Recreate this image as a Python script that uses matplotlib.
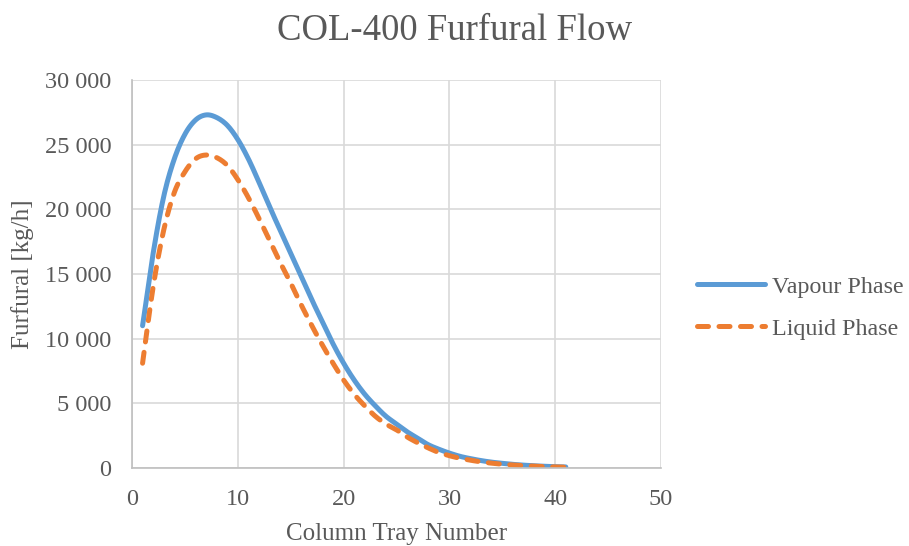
import numpy as np
import matplotlib
matplotlib.use("Agg")
import matplotlib.pyplot as plt
from matplotlib.ticker import FuncFormatter, MultipleLocator

trays = list(range(1, 42))
vapour = [11000, 16600, 21000, 23900, 25800, 26900, 27300, 27100, 26500, 25400,
          23900, 22100, 20200, 18400, 16600, 14800, 13000, 11300, 9600, 8100,
          6800, 5700, 4800, 4000, 3400, 2800, 2300, 1800, 1450, 1150,
          900, 720, 570, 450, 360, 280, 220, 170, 130, 100, 80]
liquid = [8100, 14000, 18400, 21300, 22900, 23900, 24200, 24000, 23400, 22300,
          20900, 19300, 17600, 15900, 14300, 12600, 11000, 9500, 8100, 6800,
          5700, 4800, 4000, 3400, 2950, 2400, 1950, 1550, 1200, 950,
          750, 600, 470, 370, 290, 230, 180, 140, 100, 80, 60]

TEXT = "#595959"
GRID = "#d9d9d9"
plt.rcParams["font.family"] = ["Liberation Serif", "DejaVu Serif"]


def smooth(x, y, n=12):
    # Catmull-Rom spline through the points, like Excel's "smoothed line"
    x = np.asarray(x, float)
    y = np.asarray(y, float)
    px = np.concatenate([[2 * x[0] - x[1]], x, [2 * x[-1] - x[-2]]])
    py = np.concatenate([[2 * y[0] - y[1]], y, [2 * y[-1] - y[-2]]])
    t = np.linspace(0, 1, n, endpoint=False)
    xs, ys = [], []
    for i in range(1, len(px) - 2):
        for p, out in ((px, xs), (py, ys)):
            p0, p1, p2, p3 = p[i - 1], p[i], p[i + 1], p[i + 2]
            out.append(0.5 * (2 * p1 + (-p0 + p2) * t
                              + (2 * p0 - 5 * p1 + 4 * p2 - p3) * t ** 2
                              + (-p0 + 3 * p1 - 3 * p2 + p3) * t ** 3))
    xs.append([x[-1]])
    ys.append([y[-1]])
    return np.concatenate(xs), np.concatenate(ys)


fig = plt.figure(figsize=(9.09, 5.46), dpi=100)
ax = fig.add_axes([0.1452, 0.1429, 0.582, 0.7106])

vx, vy = smooth(trays, vapour)
lx, ly = smooth(trays, liquid)
ax.plot(vx, vy, color="#5B9BD5", lw=3.6, solid_capstyle="round",
        label="Vapour Phase")
ax.plot(lx, ly, color="#ED7D31", lw=3.6, linestyle=(0, (2.2, 2.1)),
        dash_capstyle="round", label="Liquid Phase")

ax.set_xlim(0, 50)
ax.set_ylim(0, 30000)
ax.xaxis.set_major_locator(MultipleLocator(10))
ax.yaxis.set_major_locator(MultipleLocator(5000))
ax.yaxis.set_major_formatter(FuncFormatter(lambda v, p: f"{v:,.0f}".replace(",", " ")))
ax.grid(True, color=GRID, lw=1.2)
ax.set_axisbelow(True)
for s in ["top", "right"]:
    ax.spines[s].set_visible(False)
for s in ["left", "bottom"]:
    ax.spines[s].set_color("#bfbfbf")
    ax.spines[s].set_linewidth(1.2)
ax.tick_params(length=0, labelsize=17.5, colors=TEXT)
ax.tick_params(axis="x", pad=15)
ax.tick_params(axis="y", pad=15)

ax.set_xlabel("Column Tray Number", fontsize=18, color=TEXT)
ax.xaxis.set_label_coords(0.5, -0.143)
ax.set_ylabel("Furfural [kg/h]", fontsize=18, color=TEXT)
ax.yaxis.set_label_coords(-0.185, 0.5)
fig.suptitle("COL-400 Furfural Flow", x=0.5, y=0.975, fontsize=26.5, color=TEXT)

ax.legend(loc="center left", bbox_to_anchor=(1.049, 0.413), borderaxespad=0,
          frameon=False, fontsize=17.3, labelcolor=TEXT, handlelength=2.83,
          handletextpad=0.29, labelspacing=0.85)

fig.savefig("out.png", dpi=100)
